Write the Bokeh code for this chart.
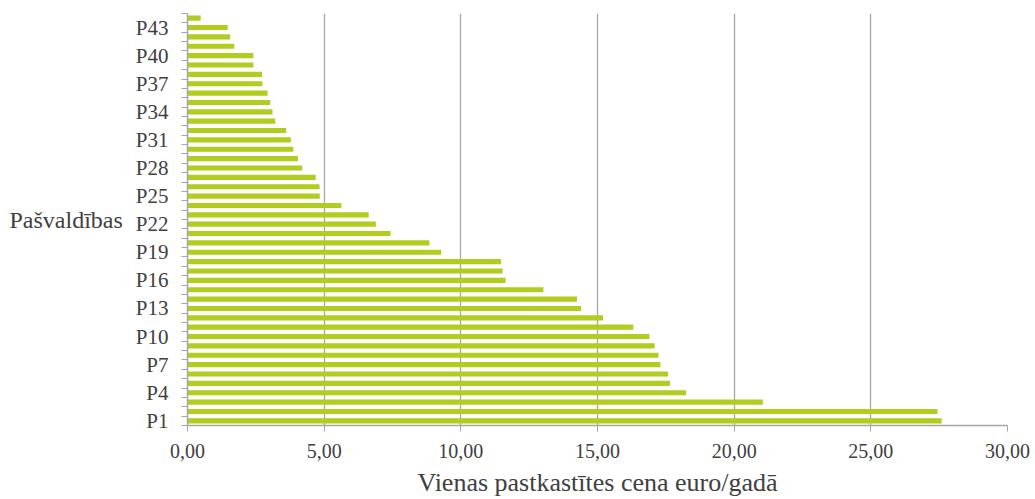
from bokeh.plotting import figure
from bokeh.models import FixedTicker, Range1d, ColumnDataSource
from bokeh.embed import file_html
from bokeh.resources import INLINE

categories = [f"P{i}" for i in range(1, 45)]
values = [27.59, 27.44, 21.05, 18.24, 17.65, 17.58, 17.30, 17.23, 17.09, 16.90,
          16.31, 15.20, 14.40, 14.25, 13.02, 11.64, 11.53, 11.47, 9.28, 8.85,
          7.43, 6.89, 6.63, 5.63, 4.84, 4.83, 4.69, 4.20, 4.04, 3.87,
          3.78, 3.61, 3.21, 3.11, 3.03, 2.93, 2.74, 2.73, 2.41, 2.41,
          1.71, 1.56, 1.47, 0.48]
x_ticks = [0, 5, 10, 15, 20, 25, 30]
x_tick_labels = ["0,00", "5,00", "10,00", "15,00", "20,00", "25,00", "30,00"]
y_label_every = 3

pos = list(range(1, len(categories) + 1))
src = ColumnDataSource(dict(y=pos, v=values, name=categories))

FONT = "Liberation Serif"
TXT = "#404040"
GRID = "#a6a6a6"

p = figure(width=1035, height=499, output_backend="svg", toolbar_location=None,
           x_range=Range1d(0, 30), y_range=Range1d(0.5, len(categories) + 0.5),
           min_border_left=187, min_border_right=28, min_border_top=13,
           min_border_bottom=73)
p.outline_line_color = None
p.background_fill_color = "white"
p.border_fill_color = "white"

p.hbar(y="y", right="v", left=0, height=0.55, source=src,
       fill_color="#b4cb1f", line_color=None)

# x axis
p.xaxis.ticker = FixedTicker(ticks=x_ticks)
p.xaxis.major_label_overrides = {t: l for t, l in zip(x_ticks, x_tick_labels)}
p.xaxis.axis_label = "Vienas pastkastītes cena euro/gadā"
p.xaxis.axis_label_text_font = FONT
p.xaxis.axis_label_text_font_style = "normal"
p.xaxis.axis_label_text_font_size = "26px"
p.xaxis.axis_label_text_color = TXT
p.xaxis.axis_label_standoff = 7
p.xaxis.major_label_text_font = FONT
p.xaxis.major_label_text_font_size = "20px"
p.xaxis.major_label_text_color = TXT
p.xaxis.major_label_standoff = 12
p.xaxis.axis_line_color = GRID
p.xaxis.axis_line_width = 1.5
p.xaxis.major_tick_line_color = GRID
p.xaxis.major_tick_out = 6
p.xaxis.major_tick_in = 0
p.xaxis.minor_tick_line_color = None

# y axis
lab_ticks = [i for i in pos if (i - 1) % y_label_every == 0]
p.yaxis.ticker = FixedTicker(ticks=lab_ticks,
                             minor_ticks=[i + 0.5 for i in range(0, len(categories) + 1)])
p.yaxis.major_label_overrides = {i: categories[i - 1] for i in lab_ticks}
p.yaxis.major_label_text_font = FONT
p.yaxis.major_label_text_font_size = "21px"
p.yaxis.major_label_text_color = TXT
p.yaxis.major_tick_line_color = None
p.yaxis.major_tick_out = 6
p.yaxis.major_label_standoff = 13
p.yaxis.minor_tick_line_color = GRID
p.yaxis.minor_tick_out = 6
p.yaxis.minor_tick_in = 0
p.yaxis.axis_line_color = GRID
p.yaxis.axis_line_width = 1.5

p.yaxis.axis_label = "Pašvaldības"
p.yaxis.axis_label_orientation = "horizontal"
p.yaxis.axis_label_text_font = FONT
p.yaxis.axis_label_text_font_style = "normal"
p.yaxis.axis_label_text_font_size = "24px"
p.yaxis.axis_label_text_color = TXT
p.yaxis.axis_label_standoff = 10

p.xgrid.ticker = FixedTicker(ticks=x_ticks)
p.xgrid.grid_line_color = GRID
p.xgrid.grid_line_width = 1.3
p.ygrid.grid_line_color = None

open("out.html", "w").write(file_html(p, INLINE))
